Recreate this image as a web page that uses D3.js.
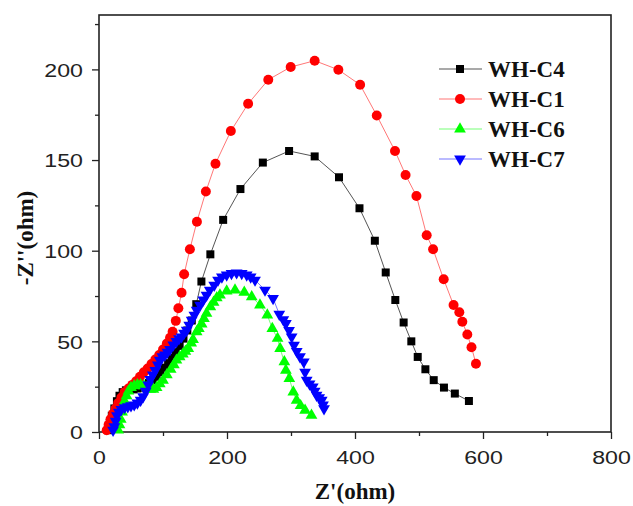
<!DOCTYPE html>
<html>
<head>
<meta charset="utf-8">
<script src="https://cdn.jsdelivr.net/npm/d3@7"></script>
<style>
  body { margin: 0; background: #fff; }
  .tick text { font-family: "Liberation Sans", Arial, sans-serif; font-size: 19px; fill: #222; }
  .title { font-family: "Liberation Serif", "Times New Roman", serif; font-weight: bold; font-size: 23px; fill: #111; }
</style>
</head>
<body>
<div id="chart"></div>
<script>
// Nyquist data: [Z', -Z'']
var wh_c4 = [[14,1],[17,5],[20,9],[24,13],[28,17],[32,20],[37,22],[42,23],[48,23.5],[54,23.5],[60,24],[66,24.5],[72,25.5],[78,27],[84,28.5],[90,30.5],[96,33],[102,35.5],[108,38],[114,41],[120,44],[126,47.5],[132,51.5],[138,56],[145,61.5],[152,70.5],[160,83],[174,98],[194,117],[221,134],[256,148.6],[297,155],[337,152],[375,140.5],[407,123.4],[431,105.5],[448,88],[463,72.8],[476,60.4],[488,50],[498,41.4],[510,34.6],[523,28.6],[539,24.5],[556,21.2],[578,17.1]];

var wh_c1 = [[12,1],[15,4],[18,7],[22,10],[26,13],[30,16],[35,19],[40,22],[46,24],[52,26],[58,28],[64,30.5],[70,33],[76,35],[82,37.5],[88,40],[94,42.5],[100,45.5],[106,48.8],[111,52],[115,55.3],[120,61.3],[124,68.2],[129,76.8],[133,87],[142,100.8],[153,116],[167,132.6],[182,148],[206,166],[233,181],[264.5,194.3],[299.5,201.3],[337,204.8],[374,199.8],[408,191.5],[434,174.6],[462.5,155],[479,141.8],[496,130.2],[512,108.5],[522,100.8],[538.6,84.2],[554,70],[563,66],[567.7,60.8],[575.5,53.8],[582,46.8],[589,37.6]];

var wh_c6 = [[30,1],[32,4],[34,7],[36,11],[38,14],[40,17],[43,20],[46,22.5],[50,24.5],[55,25.5],[60,26],[65,26],[70,25.5],[75,24.5],[80,23.5],[85,23.5],[90,24.5],[95,26.5],[100,28.5],[106,31.5],[112,34.5],[117,37],[121,39.6],[126,41.5],[131,43],[135,44.5],[139.5,46],[144,49],[147,51],[152.6,55.3],[156,57],[160.4,59.5],[164,62.5],[168,65.4],[174,69],[179,71.5],[184,74],[189,75.5],[199.5,77.7],[212.5,78.3],[227,77],[238.6,74.6],[251.5,70],[263,64.5],[270.8,57],[279,51.6],[283,46],[289.6,38.7],[292,34],[297.4,29.5],[303.6,22],[308.8,17.5],[315,14.5],[322,12],[332,9.2]];

var wh_c7 = [[22,1],[24,3],[26,6],[28,9],[31,11],[35,12.5],[40,13.5],[45,14],[50,14.5],[55,15],[60,16],[65,17.5],[69,19.5],[73,22.5],[77,26],[80,29],[84,31.5],[88,34],[92,37],[95,39.6],[99,41.5],[103,42.5],[107,44],[111,45.5],[116,48],[121,50],[125,51.5],[129,52.5],[133,54.5],[137,56.2],[141,59],[144.8,61.7],[149,64.5],[152.6,67.2],[158,70],[163,72.8],[168,75.5],[173,78.3],[180,81],[186,83.8],[192,85.5],[199.5,86.6],[207,87.5],[215,87.8],[223,87.5],[230.8,86.6],[237,85.5],[243.8,83.8],[259.4,78.3],[272,73.7],[281.7,65],[288,62],[292,59.9],[297,56],[301,52.5],[304.7,47.9],[309,44.5],[314,41.5],[320,38.7],[322,33],[324.5,28.6],[329,26.5],[334,24.9],[337,22.5],[340,20.3],[344,19],[348,17.5],[350,15],[351.6,12.9]];

var series_names = ["WH-C4", "WH-C1", "WH-C6", "WH-C7"];
var x_ticks = [0, 200, 400, 600, 800];
var y_ticks = [0, 50, 100, 150, 200];

var width = 633, height = 506;
var margin = {top: 15, right: 22, bottom: 74, left: 99};
var w = width - margin.left - margin.right,
    h = height - margin.top - margin.bottom;
var stretch = 1.22; // tick digits in the picture are wide

var svg = d3.select("#chart").append("svg")
    .attr("width", width)
    .attr("height", height);

var g = svg.append("g")
    .attr("transform", "translate(" + margin.left + "," + margin.top + ")");

var x = d3.scaleLinear().domain([0, 800]).range([0, w]);
var y = d3.scaleLinear().domain([0, 230]).range([h, 0]);

// minor ticks first
g.append("g")
    .attr("transform", "translate(0," + h + ")")
    .call(d3.axisBottom(x).tickValues(d3.range(100, 800, 200)).tickSize(4).tickFormat(""))
    .call(function (a) { a.select(".domain").remove(); });
g.append("g")
    .call(d3.axisLeft(y).tickValues(d3.range(25, 230, 50)).tickSize(4).tickFormat(""))
    .call(function (a) { a.select(".domain").remove(); });

var xAxis = g.append("g")
    .attr("transform", "translate(0," + h + ")")
    .call(d3.axisBottom(x).tickValues(x_ticks).tickSize(7).tickPadding(18));
var yAxis = g.append("g")
    .call(d3.axisLeft(y).tickValues(y_ticks).tickSize(7));
xAxis.select(".domain").remove();
yAxis.select(".domain").remove();
g.selectAll(".tick line").attr("stroke", "#222").attr("stroke-width", 1.3);
xAxis.selectAll(".tick text")
    .attr("dy", "0.35em")
    .attr("transform", "scale(" + stretch + ",1)");
yAxis.selectAll(".tick text")
    .attr("dy", "0.35em")
    .attr("x", -16 / stretch)
    .attr("transform", "scale(" + stretch + ",1)");

g.append("rect")
    .attr("width", w).attr("height", h)
    .attr("fill", "none")
    .attr("stroke", "#222")
    .attr("stroke-width", 1.6);

var sets = [
    {data: wh_c4, fill: "#000000", line: "#555555", shape: d3.symbolSquare, size: 64},
    {data: wh_c1, fill: "#ff0000", line: "#ff7777", shape: d3.symbolCircle, size: 78},
    {data: wh_c6, fill: "#00ff00", line: "#77ff77", shape: d3.symbolTriangle, size: 60},
    {data: wh_c7, fill: "#0000ff", line: "#7777ff", shape: d3.symbolTriangle, size: 60, flip: true}
];

var line = d3.line()
    .x(function (d) { return x(d[0]); })
    .y(function (d) { return y(d[1]); });

sets.forEach(function (s) {
    g.append("path")
        .datum(s.data)
        .attr("d", line)
        .attr("fill", "none")
        .attr("stroke", s.line)
        .attr("stroke-width", 1);
});

sets.forEach(function (s) {
    g.append("g").selectAll("path")
        .data(s.data)
        .enter()
        .append("path")
        .attr("d", d3.symbol().type(s.shape).size(s.size))
        .attr("transform", function (d) {
            return "translate(" + x(d[0]) + "," + y(d[1]) + ")" + (s.flip ? " rotate(180)" : "");
        })
        .attr("fill", s.fill);
});

// legend
var legend = svg.append("g").attr("transform", "translate(439,69)");
sets.forEach(function (s, i) {
    var row = legend.append("g").attr("transform", "translate(0," + (i * 30) + ")");
    row.append("line")
        .attr("x1", 0).attr("x2", 43)
        .attr("stroke", s.line).attr("stroke-width", 1.2);
    row.append("path")
        .attr("d", d3.symbol().type(s.shape).size(s.size))
        .attr("transform", "translate(21,0)" + (s.flip ? " rotate(180)" : ""))
        .attr("fill", s.fill);
    row.append("text")
        .attr("class", "title")
        .attr("x", 49)
        .attr("y", 8)
        .text(series_names[i]);
});

// axis titles
svg.append("text")
    .attr("class", "title")
    .attr("text-anchor", "middle")
    .attr("x", margin.left + x(400))
    .attr("y", 499)
    .text("Z'(ohm)");

svg.append("text")
    .attr("class", "title")
    .attr("text-anchor", "middle")
    .attr("transform", "translate(33,238) rotate(-90)")
    .text("-Z''(ohm)");
</script>
</body>
</html>
